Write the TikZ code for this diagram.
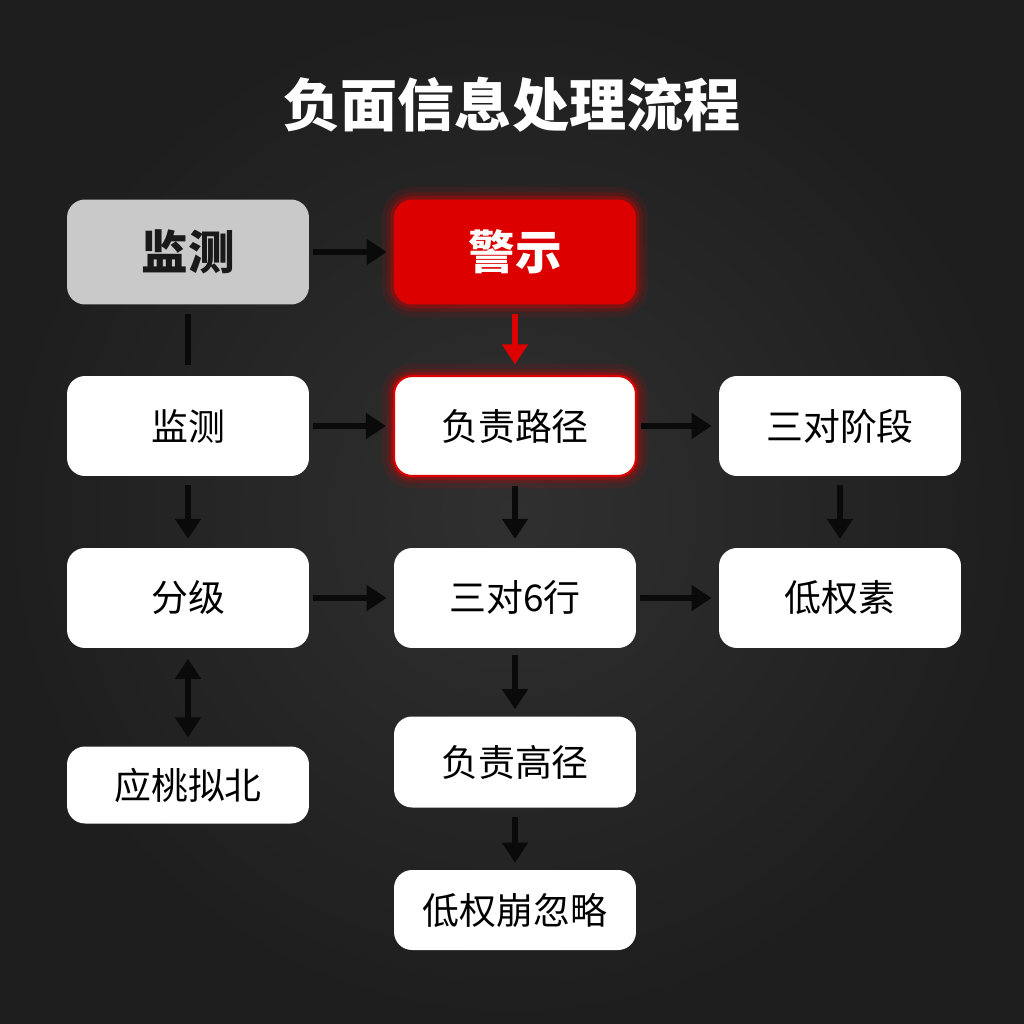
\documentclass[tikz,border=0pt]{standalone}
\usepackage{fontspec}
\newfontfamily\cjk{Noto Sans CJK SC}
\usetikzlibrary{positioning,arrows.meta,calc}
\definecolor{bgdark}{HTML}{303030}
\definecolor{bgedge}{HTML}{1E1E1E}
\definecolor{boxgray}{HTML}{C9C9C9}
\definecolor{alertred}{HTML}{DC0000}
\definecolor{arrowblack}{HTML}{0A0A0A}

\begin{document}
\begin{tikzpicture}[
    x=0.02cm, y=-0.02cm,
    >=Triangle,
    every node/.style={font=\cjk},
    box/.style={
        fill=white, rounded corners=0.36cm,
        minimum width=4.84cm, minimum height=#1,
        inner sep=0pt, font=\cjk\fontsize{21}{23}\selectfont, text=black
    },
    box/.default=2cm,
    headbox/.style={
        box=2.1cm, font=\cjk\fontsize{26.5}{28}\selectfont\bfseries, text=black!90
    },
    glow/.style={
        preaction={draw=alertred, opacity=0.1, line width=14pt},
        preaction={draw=alertred, opacity=0.18, line width=8pt},
        preaction={draw=alertred, opacity=0.3, line width=4pt}
    },
    arr/.style={-{Triangle[length=0.4cm, width=0.5cm]}, line width=3.4pt, color=#1},
    arr/.default=arrowblack,
    dblarr/.style={{Triangle[length=0.4cm, width=0.5cm]}-{Triangle[length=0.4cm, width=0.5cm]},
        line width=3.4pt, color=arrowblack},
    link/.style={line width=3.8pt, color=arrowblack},
]

% === Background ===
\useasboundingbox (0,0) rectangle (1024,1024);
\shade[inner color=bgdark, outer color=bgedge] (0,0) rectangle (1024,1024);

% === Title ===
\node[text=white, font=\cjk\fontsize{32.5}{35}\selectfont\bfseries] (title) at (512,105) {负面信息处理流程};

% ============================
% ROW 1
% ============================
\node[headbox, fill=boxgray] (mon0) at (188,252) {监测};
\node[headbox, fill=alertred, text=white, glow] (warn) at (515,252) {警示};

% ============================
% ROW 2
% ============================
\node[box] (mon) at (188,426) {监测};
\node[box, draw=alertred, line width=1.2pt, glow] (path) at (515,426) {负责路径};
\node[box] (stage) at (840,426) {三对阶段};

% ============================
% ROW 3
% ============================
\node[box] (grade) at (188,598) {分级};
\node[box] (act) at (515,598) {三对6行};
\node[box] (lowel) at (840,598) {低权素};

% ============================
% ROWS 4--5
% ============================
\node[box=1.54cm] (resp) at (188,785) {应桃拟北};
\node[box=1.82cm] (high) at (515,762) {负责高径};
\node[box=1.6cm] (ignore) at (515,910) {低权崩忽略};

% === Connectors ===
\draw[arr] ([xshift=2pt]mon0.east) -- ([xshift=-4pt]warn.west);
\draw[link] ([yshift=-5pt]mon0.south) -- ([yshift=6pt]mon.north);
\draw[arr=alertred] ([yshift=-5pt]warn.south) -- ([yshift=6pt]path.north);

\draw[arr] ([xshift=2pt]mon.east) -- ([xshift=-4pt]path.west);
\draw[arr] ([xshift=2pt]path.east) -- ([xshift=-4pt]stage.west);
\draw[arr] ([yshift=-5pt]mon.south) -- ([yshift=5pt]grade.north);
\draw[arr] ([yshift=-5pt]path.south) -- ([yshift=5pt]act.north);
\draw[arr] ([yshift=-5pt]stage.south) -- ([yshift=5pt]lowel.north);

\draw[arr] ([xshift=2pt]grade.east) -- ([xshift=-4pt]act.west);
\draw[arr] ([xshift=2pt]act.east) -- ([xshift=-4pt]lowel.west);
\draw[dblarr] ([yshift=-6pt]grade.south) -- ([yshift=5pt]resp.north);
\draw[arr] ([yshift=-4pt]act.south) -- ([yshift=4pt]high.north);
\draw[arr] ([yshift=-5pt]high.south) -- ([yshift=4pt]ignore.north);

\end{tikzpicture}
\end{document}
